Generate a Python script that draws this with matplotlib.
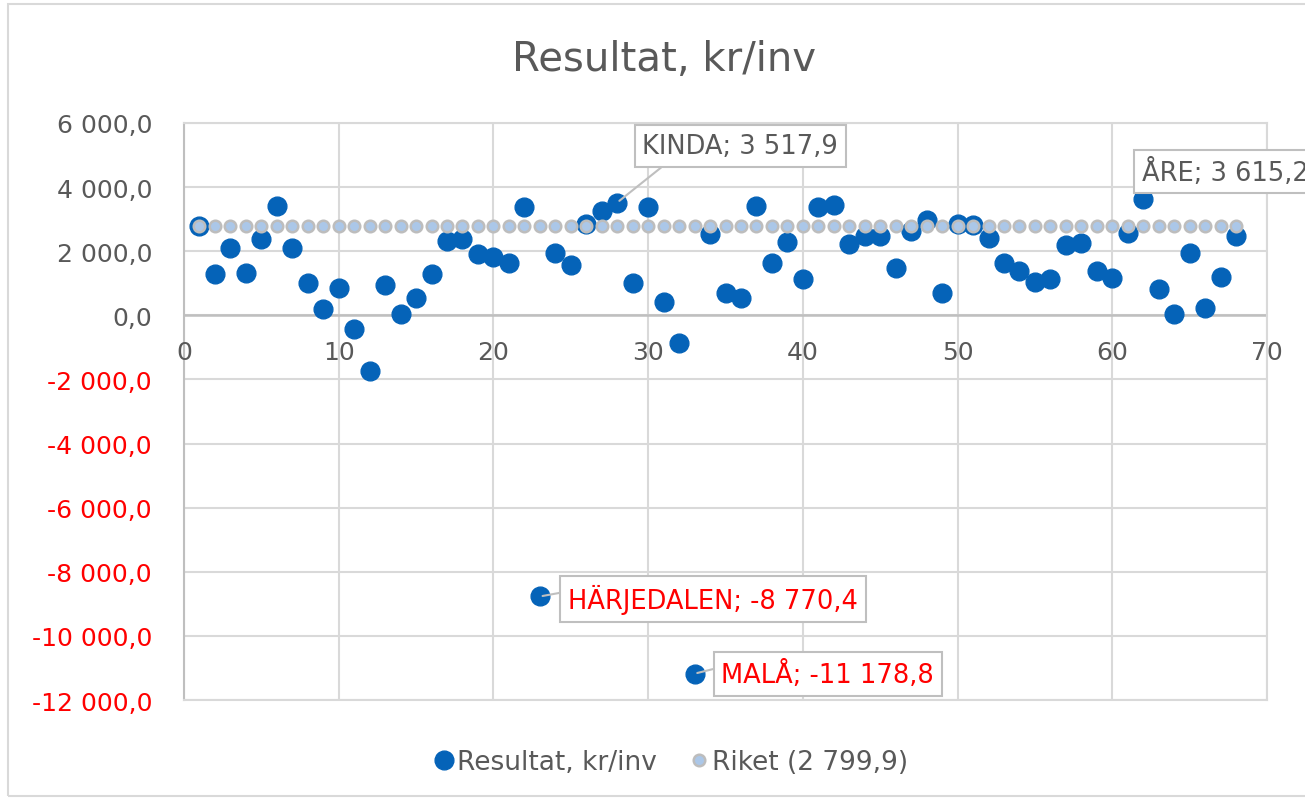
import matplotlib
matplotlib.use("Agg")
import matplotlib.pyplot as plt
from matplotlib.patches import Rectangle
import matplotlib.transforms as mtransforms

# ---- data ----
municipality_no = list(range(1, 69))
resultat = [2800, 1281, 2104, 1333, 2396, 3396, 2104, 1000, 187, 854,
            -437, -1740, 958, 31, 552, 1281, 2323, 2396, 1906, 1833,
            1625, 3365, -8770.4, 1958, 1573, 2850, 3260, 3517.9, 1000, 3365,
            417, -875, -11178.8, 2531, 708, 552, 3396, 1625, 2292, 1125,
            3365, 3448, 2219, 2479, 2479, 1490, 2635, 2969, 708, 2864,
            2830, 2427, 1625, 1385, 1052, 1146, 2198, 2250, 1385, 1177,
            2583, 3615.2, 812, 31, 1958, 240, 1208, 2479]
riket_value = 2799.9
riket = [riket_value] * len(municipality_no)

labels = {  # index number -> name
    28: "KINDA",
    62: "ÅRE",
    23: "HÄRJEDALEN",
    33: "MALÅ",
}
label_pos = {  # text box anchor positions (data coords)
    28: (35.95, 5280),
    62: (61.9, 4480),
    23: (34.2, -8844),
    33: (41.6, -11190),
}

xticks = [0, 10, 20, 30, 40, 50, 60, 70]
yticks = [6000, 4000, 2000, 0, -2000, -4000, -6000, -8000, -10000, -12000]

title = "Resultat, kr/inv"
series_name = "Resultat, kr/inv"


def fmt(v):
    s = f"{abs(v):,.1f}".replace(",", " ").replace(".", ",")
    return ("-" if v < 0 else "") + s


GREY_TXT = "#595959"
BLUE = "#0563B8"
RED = "#FF0000"
GRID = "#D9D9D9"

plt.rcParams["font.family"] = ["DejaVu Sans"]

fig = plt.figure(figsize=(13.05, 8.03), dpi=100)
ax = fig.add_axes([184 / 1305, 1 - 701 / 803, (1267 - 184) / 1305, (701 - 124) / 803])

# outer chart border
fig.patches.append(Rectangle((8 / 1305, 1 - 797 / 803), 1.0, (797 - 5) / 803,
                             transform=fig.transFigure, fill=False,
                             ec="#D9D9D9", lw=1.5, zorder=0))

ax.set_xlim(0, 70)
ax.set_ylim(-12000, 6000)
ax.set_xticks(xticks)
ax.set_yticks(yticks)
ax.grid(True, color=GRID, lw=1.5, zorder=0)
ax.set_axisbelow(True)

for side in ["top", "right", "bottom"]:
    ax.spines[side].set_color(GRID)
    ax.spines[side].set_linewidth(1.5)
ax.spines["left"].set_color("#BFBFBF")
ax.spines["left"].set_linewidth(1.5)
ax.axhline(0, color="#BFBFBF", lw=1.8, zorder=1)

ax.tick_params(axis="both", length=0, labelsize=18, labelcolor=GREY_TXT)
ax.tick_params(axis="y", pad=23)
ax.set_yticklabels([fmt(v) for v in yticks])
for t, v in zip(ax.get_yticklabels(), yticks):
    t.set_color(RED if v < 0 else GREY_TXT)

# x tick labels just below the zero line
ax.set_xticklabels([])
offset = mtransforms.ScaledTranslation(0, -25 / 100, fig.dpi_scale_trans)
for xv in xticks:
    ax.text(xv, 0, str(xv), transform=ax.transData + offset, ha="center", va="top",
            fontsize=18, color=GREY_TXT, clip_on=False)

ax.plot(municipality_no, resultat, "o", ms=13.5, color=BLUE, mec=BLUE,
        ls="none", zorder=3, label=series_name)
ax.plot(municipality_no, riket, "o", ms=8.3, mfc="#ABC7E8", mec="#BDBDBD",
        mew=1.8, ls="none", zorder=4, label=f"Riket ({fmt(riket_value)})")

for idx, name in labels.items():
    val = resultat[idx - 1]
    tx, ty = label_pos[idx]
    col = RED if val < 0 else GREY_TXT
    ax.annotate(f"{name}; {fmt(val)}", xy=(idx, val), xytext=(tx, ty),
                ha="left" if idx == 62 else "center", va="center",
                fontsize=18.5, color=col, zorder=6, annotation_clip=False,
                bbox=dict(boxstyle="square,pad=0.3", fc="white", ec="#BFBFBF", lw=1.5),
                arrowprops=None if idx == 62 else dict(arrowstyle="-", color="#BFBFBF", lw=1.5,
                                                       shrinkA=0, shrinkB=2,
                                                       relpos=(0.15, 0.0) if idx == 28 else (0.0, 0.75)))

fig.text(0.509, 1 - 60 / 803, title, ha="center", va="center", fontsize=29, color=GREY_TXT)

leg = ax.legend(loc="center", bbox_to_anchor=(0.512, 0.05), bbox_transform=fig.transFigure,
                ncol=2, frameon=False, fontsize=19, handletextpad=-0.1, columnspacing=1.0,
                labelcolor=GREY_TXT, markerscale=1.0, handlelength=1.2)

fig.savefig("out.png", dpi=100, facecolor="white")
